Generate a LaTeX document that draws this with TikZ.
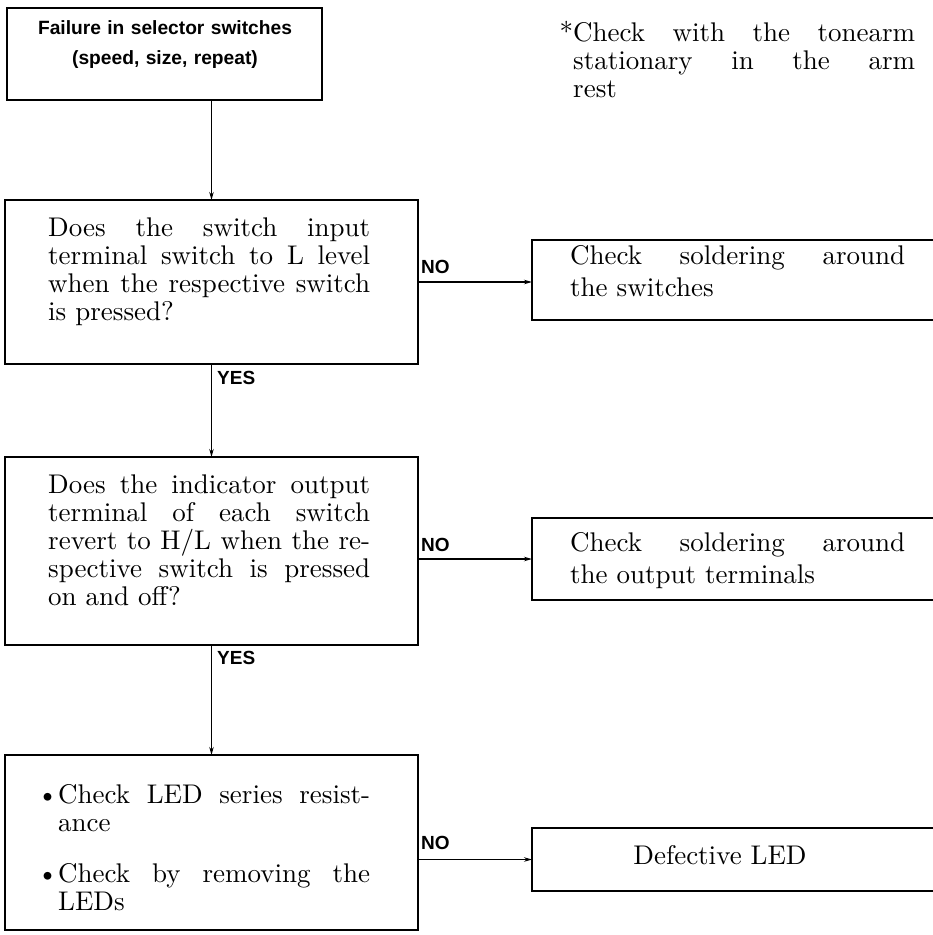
\documentclass[tikz,border=0pt]{standalone}
\usepackage{fontspec}
\setmainfont{lmroman10-regular}[Extension=.otf, BoldFont=lmroman10-bold]
\newfontfamily\labelfont{Liberation Sans}
\usetikzlibrary{arrows.meta}
\begin{document}
\begin{tikzpicture}[x=1pt,y=-1pt,
  box/.style={draw, line width=1.8pt, rectangle, inner sep=0pt, outer sep=0pt, anchor=north west},
  body/.style={font=\fontsize{27}{28}\selectfont, align=justify, inner sep=0pt, anchor=base west},
  rbody/.style={font=\fontsize{27}{32}\selectfont, align=justify, inner sep=0pt, anchor=base west, text width=335pt},
  ttl/.style={font=\labelfont\bfseries\fontsize{19.2}{30}\selectfont, align=center, text width=300pt, inner sep=0pt, anchor=base},
  lab/.style={font=\labelfont\bfseries\fontsize{19}{20}\selectfont, inner sep=0pt, anchor=base west},
  conn/.style={line width=1.1pt, -{Stealth[length=8pt,width=4.5pt]}}
]
\useasboundingbox (0,0) rectangle (933,935);
\clip (0,0) rectangle (933,935);
% left boxes
\node[box, minimum width=315pt, minimum height=92pt] (b1) at (7,8) {};
\node[box, minimum width=413pt, minimum height=164pt] (b2) at (5,200) {};
\node[box, minimum width=413pt, minimum height=188pt] (b3) at (5,457) {};
\node[box, minimum width=413pt, minimum height=175pt] (b4) at (5,755) {};
% right boxes (run past the right edge)
\node[box, minimum width=420pt, minimum height=80pt] (r1) at (532,240) {};
\node[box, minimum width=420pt, minimum height=82pt] (r2) at (532,518) {};
\node[box, minimum width=420pt, minimum height=63pt] (r3) at (532,828) {};
% texts
\node[ttl] (t1) at (165,34) {Failure in selector switches\\(speed, size, repeat)};
\node[body, text width=342pt] (note) at (573,41) {\llap{*}Check with the tonearm\linebreak stationary in the arm\linebreak rest};
\node[body, text width=322pt] (t2) at (48,236) {Does the switch input\linebreak terminal switch to L level\linebreak when the respective switch\linebreak is pressed?};
\node[body, text width=322pt] (t3) at (48,493) {Does the indicator output\linebreak terminal of each switch\linebreak revert to H/L when the re-\linebreak spective switch is pressed\linebreak on and off?};
\node[body, text width=312pt] (t4a) at (58,803) {\llap{\textbullet}Check LED series resist-\linebreak ance};
\node[body, text width=312pt] (t4b) at (58,882) {\llap{\textbullet}Check by removing the\linebreak LEDs};
\node[rbody] (tr1) at (570,264) {Check soldering around\linebreak the switches};
\node[rbody] (tr2) at (570,551) {Check soldering around\linebreak the output terminals};
\node[body, anchor=base] (tr3) at (720,864) {Defective LED};
% labels
\node[lab] (no1) at (421,273) {NO};
\node[lab] (no2) at (421,551) {NO};
\node[lab] (no3) at (421,849) {NO};
\node[lab] (yes1) at (217,384) {YES};
\node[lab] (yes2) at (217,664) {YES};
% connectors
\draw[conn] (b1.south -| b2.north) -- (b2.north);
\draw[conn] (b2.south) -- (b3.north);
\draw[conn] (b3.south) -- (b4.north);
\draw[conn] (b2.east) -- (b2.east -| r1.west);
\draw[conn] (r2.west -| b3.east) -- (r2.west);
\draw[conn] (r3.west -| b4.east) -- (r3.west);
\end{tikzpicture}
\end{document}
